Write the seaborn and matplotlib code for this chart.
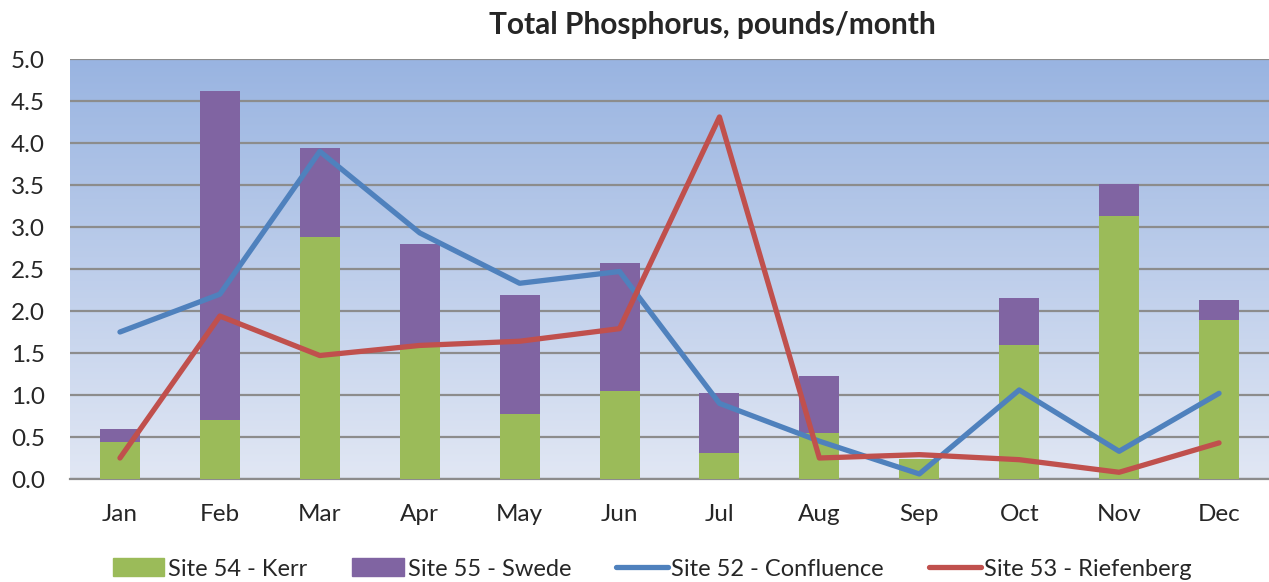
import numpy as np
import pandas as pd
import seaborn as sns
import matplotlib
matplotlib.use('Agg')
import matplotlib.pyplot as plt
from matplotlib.patches import Patch
from matplotlib.lines import Line2D
from matplotlib.colors import LinearSegmentedColormap

months = ['Jan', 'Feb', 'Mar', 'Apr', 'May', 'Jun', 'Jul', 'Aug', 'Sep', 'Oct', 'Nov', 'Dec']
kerr = [0.44, 0.70, 2.88, 1.60, 0.77, 1.05, 0.31, 0.55, 0.24, 1.60, 3.13, 1.89]
swede = [0.15, 3.92, 1.06, 1.20, 1.42, 1.52, 0.71, 0.68, 0.00, 0.55, 0.38, 0.24]
confluence = [1.75, 2.20, 3.90, 2.93, 2.33, 2.47, 0.90, 0.45, 0.06, 1.06, 0.33, 1.02]
riefenberg = [0.25, 1.94, 1.47, 1.59, 1.64, 1.79, 4.31, 0.25, 0.29, 0.23, 0.08, 0.43]

c_kerr = '#9BBB59'
c_swede = '#8064A2'
c_conf = '#4F81BD'
c_rief = '#C0504D'

sns.set_style('white')
plt.rcParams['font.family'] = ['Lato', 'DejaVu Sans']

df = pd.DataFrame({'month': months, 'kerr': kerr,
                   'total': np.array(kerr) + np.array(swede)})

fig = plt.figure(figsize=(12.69, 5.82), dpi=100)
ax = fig.add_axes([70 / 1269, 1 - 479 / 582, 1199 / 1269, 420 / 582])

# gradient background
grad = LinearSegmentedColormap.from_list('bg', ['#E1E7F4', '#99B4E1'])
ax.imshow(np.linspace(0, 1, 256).reshape(-1, 1), cmap=grad, origin='lower',
          extent=[-0.5, 11.5, 0, 5], aspect='auto', zorder=0)

sns.barplot(data=df, x='month', y='total', color=c_swede, width=0.4,
            saturation=1, linewidth=0, ax=ax, zorder=3)
sns.barplot(data=df, x='month', y='kerr', color=c_kerr, width=0.4,
            saturation=1, linewidth=0, ax=ax, zorder=3)

xs = np.arange(len(months))
sns.lineplot(x=xs, y=confluence, color=c_conf, lw=3.8, ax=ax, zorder=4,
             solid_capstyle='round')
sns.lineplot(x=xs, y=riefenberg, color=c_rief, lw=3.8, ax=ax, zorder=5,
             solid_capstyle='round')

ax.set_xlim(-0.5, 11.5)
ax.set_ylim(0, 5)
ax.set_yticks(np.arange(0, 5.01, 0.5))
ax.set_yticklabels([f'{v:.1f}' for v in np.arange(0, 5.01, 0.5)])
ax.set_xticks(xs)
ax.set_xticklabels(months)
ax.yaxis.grid(True, color='#8C8C8C', lw=1.6, zorder=1)
ax.set_axisbelow(True)
for s in ['top', 'right', 'left']:
    ax.spines[s].set_visible(False)
ax.spines['bottom'].set_color('#8C8C8C')
ax.spines['bottom'].set_linewidth(1.6)
ax.tick_params(axis='x', length=0, labelsize=17.5, pad=18)
ax.tick_params(axis='y', length=0, labelsize=17.5, pad=18)
ax.set_xlabel('')
ax.set_ylabel('')

fig.text(0.561, 1 - 25 / 582, 'Total Phosphorus, pounds/month', ha='center',
         va='center', fontsize=21.5, fontweight='bold')

handles = [Patch(color=c_kerr), Patch(color=c_swede),
           Line2D([], [], color=c_conf, lw=3.8), Line2D([], [], color=c_rief, lw=3.8)]
labels = ['Site 54 - Kerr', 'Site 55 - Swede', 'Site 52 - Confluence', 'Site 53 - Riefenberg']
fig.legend(handles, labels, loc='center', bbox_to_anchor=(0.514, 1 - 569 / 582),
           ncol=4, frameon=False, fontsize=17, handlelength=2.2, handleheight=0.8,
           columnspacing=1.9, handletextpad=0.15)

fig.savefig('out.png', dpi=100)
